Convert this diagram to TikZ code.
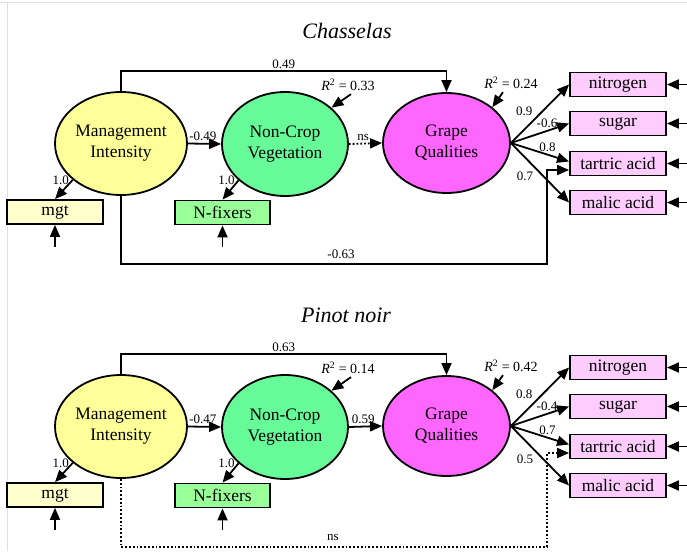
\documentclass[tikz,border=0pt]{standalone}
\usepackage{fontspec}
\setmainfont{Liberation Serif}
\usetikzlibrary{shapes.geometric,arrows.meta,positioning,calc}
\definecolor{miyellow}{RGB}{255,255,153}
\definecolor{mgtyellow}{RGB}{255,255,204}
\definecolor{ncvgreen}{RGB}{102,250,153}
\definecolor{nfixgreen}{RGB}{153,255,153}
\definecolor{gqpink}{RGB}{255,102,255}
\definecolor{boxpink}{RGB}{255,204,255}

\begin{document}
\begin{tikzpicture}[x=1pt,y=-1pt,
    latent/.style={ellipse,draw,line width=1.8pt,minimum width=127pt,minimum height=102pt,
      inner sep=0pt,align=center,font=\fontsize{17.5}{21}\selectfont},
    obsbox/.style={rectangle,draw,line width=1.8pt,minimum width=96pt,minimum height=24pt,
      inner sep=0pt,font=\fontsize{17.5}{21}\selectfont},
    path/.style={-{Triangle[length=12pt,width=10pt]},line width=1.8pt},
    lab/.style={font=\fontsize{13}{15}\selectfont,inner sep=2pt},
    rsq/.style={font=\fontsize{14}{16}\selectfont,inner sep=2pt},
    title/.style={font=\fontsize{22}{26}\selectfont\itshape}]
  \useasboundingbox (0,0) rectangle (687,551);
  % Frame
  \draw[gray!25,line width=1pt] (0,2.5) -- (687,2.5) (7,2.5) -- (7,551);

  % ---------------- Chasselas ----------------
  \node[title] (c-title) at (347,31) {Chasselas};

  % Latent variables
  \node[latent,fill=miyellow,minimum width=132pt,minimum height=103pt] (c-mi) at (121,143.5) {Management\\Intensity};
  \node[latent,fill=ncvgreen,minimum width=126pt,minimum height=104pt] (c-ncv) at (285,144) {Non-Crop\\Vegetation};
  \node[latent,fill=gqpink,minimum height=100pt] (c-gq) at (446.5,143) {Grape\\Qualities};

  % Indicators
  \node[obsbox,fill=mgtyellow] (c-mgt) at (55,212) {mgt};
  \node[obsbox,fill=nfixgreen,minimum width=95pt] (c-nfix) at (222.5,212.5) {N-fixers};
  \node[obsbox,fill=boxpink] (c-nit) at (618,84.5) {nitrogen};
  \node[obsbox,fill=boxpink] (c-sug) at (618,123.5) {sugar};
  \node[obsbox,fill=boxpink] (c-tar) at (618,163.5) {tartric acid};
  \node[obsbox,fill=boxpink] (c-mal) at (618,202.5) {malic acid};

  % Errors
  \coordinate[below=22pt of c-mgt] (c-emgt);
  \coordinate[below=22pt of c-nfix] (c-enfix);
  \foreach \b in {nit,sug,tar,mal}
    \coordinate[right=21pt of c-\b] (c-e\b);
  \draw[path] (c-emgt) -- (c-mgt);
  \draw[path] (c-enfix) -- (c-nfix);
  \foreach \b in {nit,sug,tar,mal}
    \draw[path] (c-e\b) -- (c-\b);

  % R squared
  \node[rsq] (c-rncv) at (348,85) {\textit{R}\textsuperscript{2} = 0.33};
  \node[rsq] (c-rgq) at (511,83) {\textit{R}\textsuperscript{2} = 0.24};
  \draw[path] ($(c-rncv.south)+(3,1)$) -- (c-ncv.38);
  \draw[path] ($(c-rgq.south)+(-8,1)$) -- (c-gq.38);

  % Paths
  \draw[path] (c-mi.-143) -- node[lab,at start,left=1pt] {1.0} (c-mgt.north);
  \draw[path] (c-ncv.-142) -- node[lab,at start,left=1pt] {1.0} (c-nfix.north);
  \draw[path] (c-mi.east) -- node[lab,pos=0.45,above] {-0.49} (c-ncv.west);
  \draw[path,dotted] (c-ncv.east) -- node[lab,pos=0.43,above] {ns} (c-gq.west);
  \draw[path] (c-mi.north) -- ++(0,-20) -| node[lab,pos=0.25,above] {0.49} (c-gq.north);
  \draw[path] (c-mi.south) -- ++(0,68) -| ($(c-tar.west)+(-22,6.5)$) -- ($(c-tar.west)+(0,6.5)$);
  \node[lab] at (341,254) {-0.63};

  % Loadings
  \draw[path] (c-gq.east) -- node[lab,pos=0.42,above left] {0.9} (c-nit.west);
  \draw[path] (c-gq.east) -- node[lab,pos=0.62,above] {-0.6} (c-sug.west);
  \draw[path] (c-gq.east) -- node[lab,pos=0.63,above] {0.8} ($(c-tar.west)+(0,-2)$);
  \draw[path] (c-gq.east) -- node[lab,pos=0.43,below left] {0.7} (c-mal.west);

  % ---------------- Pinot noir ----------------
  \node[title] (p-title) at (346,315) {Pinot noir};

  % Latent variables
  \node[latent,fill=miyellow,minimum width=132pt,minimum height=103pt] (p-mi) at (121,426.5) {Management\\Intensity};
  \node[latent,fill=ncvgreen,minimum width=126pt,minimum height=104pt] (p-ncv) at (285,427) {Non-Crop\\Vegetation};
  \node[latent,fill=gqpink,minimum height=100pt] (p-gq) at (446.5,426) {Grape\\Qualities};

  % Indicators
  \node[obsbox,fill=mgtyellow] (p-mgt) at (55,495) {mgt};
  \node[obsbox,fill=nfixgreen,minimum width=95pt] (p-nfix) at (222.5,495.5) {N-fixers};
  \node[obsbox,fill=boxpink] (p-nit) at (618,367.5) {nitrogen};
  \node[obsbox,fill=boxpink] (p-sug) at (618,406.5) {sugar};
  \node[obsbox,fill=boxpink] (p-tar) at (618,446.5) {tartric acid};
  \node[obsbox,fill=boxpink] (p-mal) at (618,485.5) {malic acid};

  % Errors
  \coordinate[below=22pt of p-mgt] (p-emgt);
  \coordinate[below=22pt of p-nfix] (p-enfix);
  \foreach \b in {nit,sug,tar,mal}
    \coordinate[right=21pt of p-\b] (p-e\b);
  \draw[path] (p-emgt) -- (p-mgt);
  \draw[path] (p-enfix) -- (p-nfix);
  \foreach \b in {nit,sug,tar,mal}
    \draw[path] (p-e\b) -- (p-\b);

  % R squared
  \node[rsq] (p-rncv) at (348,368) {\textit{R}\textsuperscript{2} = 0.14};
  \node[rsq] (p-rgq) at (511,366) {\textit{R}\textsuperscript{2} = 0.42};
  \draw[path] ($(p-rncv.south)+(3,1)$) -- (p-ncv.38);
  \draw[path] ($(p-rgq.south)+(-8,1)$) -- (p-gq.38);

  % Paths
  \draw[path] (p-mi.-143) -- node[lab,at start,left=1pt] {1.0} (p-mgt.north);
  \draw[path] (p-ncv.-142) -- node[lab,at start,left=1pt] {1.0} (p-nfix.north);
  \draw[path] (p-mi.east) -- node[lab,pos=0.45,above] {-0.47} (p-ncv.west);
  \draw[path] (p-ncv.east) -- node[lab,pos=0.43,above] {0.59} (p-gq.west);
  \draw[path] (p-mi.north) -- ++(0,-20) -| node[lab,pos=0.25,above] {0.63} (p-gq.north);
  \draw[path,dotted] (p-mi.south) -- ++(0,68) -| ($(p-tar.west)+(-22,6.5)$) -- ($(p-tar.west)+(0,6.5)$);
  \node[lab] at (333,537) {ns};

  % Loadings
  \draw[path] (p-gq.east) -- node[lab,pos=0.42,above left] {0.8} (p-nit.west);
  \draw[path] (p-gq.east) -- node[lab,pos=0.62,above] {-0.4} (p-sug.west);
  \draw[path] (p-gq.east) -- node[lab,pos=0.63,above] {0.7} ($(p-tar.west)+(0,-2)$);
  \draw[path] (p-gq.east) -- node[lab,pos=0.43,below left] {0.5} (p-mal.west);
\end{tikzpicture}
\end{document}
